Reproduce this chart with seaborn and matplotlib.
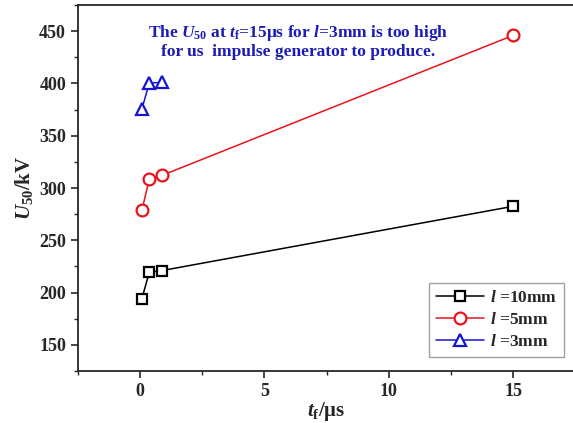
import matplotlib
matplotlib.use("Agg")
import matplotlib.pyplot as plt
from matplotlib.ticker import MultipleLocator
import seaborn as sns
import pandas as pd

# data
tf_short = [0.07, 0.37, 0.87, 15]
u50_10mm = [194, 219.5, 221, 282.5]
u50_5mm = [278.5, 308.5, 312, 446]
tf_3mm = [0.07, 0.37, 0.87]
u50_3mm = [375.5, 400.5, 401]
series_labels = [r"$l$ =10mm", r"$l$ =5mm", r"$l$ =3mm"]
colors = ["black", "#e8141c", "#1414d2"]
markers = ["s", "o", "^"]

sns.set_style("ticks")
plt.rcParams["font.family"] = ["Liberation Serif", "DejaVu Serif"]
plt.rcParams["font.weight"] = "bold"
plt.rcParams["mathtext.fontset"] = "custom"
plt.rcParams["mathtext.rm"] = "Liberation Serif:bold"
plt.rcParams["mathtext.it"] = "Liberation Serif:italic:bold"
plt.rcParams["mathtext.bf"] = "Liberation Serif:bold"

df = pd.concat([
    pd.DataFrame({"tf": tf_short, "U50": u50_10mm, "series": series_labels[0]}),
    pd.DataFrame({"tf": tf_short, "U50": u50_5mm, "series": series_labels[1]}),
    pd.DataFrame({"tf": tf_3mm, "U50": u50_3mm, "series": series_labels[2]}),
])

fig = plt.figure(figsize=(5.73, 4.23), dpi=100)
ax = fig.add_axes([0.136, 0.123, 0.868, 0.865])

for lab, c, m in zip(series_labels, colors, markers):
    sub = df[df["series"] == lab]
    sns.lineplot(data=sub, x="tf", y="U50", ax=ax, color=c, marker=m,
                 markersize=8.5 if m != "s" else 7.5, markerfacecolor="white",
                 markeredgecolor=c, markeredgewidth=1.6, linewidth=1.1,
                 sort=False, label=lab, estimator=None)

ax.set_xlim(-2.5, 17.5)
ax.set_ylim(125, 475)
ax.xaxis.set_major_locator(MultipleLocator(5))
ax.xaxis.set_minor_locator(MultipleLocator(2.5))
ax.yaxis.set_major_locator(MultipleLocator(50))
ax.yaxis.set_minor_locator(MultipleLocator(25))
ax.tick_params(which="major", direction="out", length=5, width=1.2, labelsize=13)
ax.tick_params(which="minor", direction="out", length=3, width=1.0)
for lbl in ax.get_xticklabels() + ax.get_yticklabels():
    lbl.set_fontweight("bold")
for s in ax.spines.values():
    s.set_linewidth(1.3)

ax.set_xlabel(r"$t_{\mathrm{f}}$/μs", fontsize=15, fontweight="bold", labelpad=0)
ax.set_ylabel(r"$U_{50}$/kV", fontsize=15, fontweight="bold", labelpad=3)

ax.text(0.443, 0.951,
        "The $U_{50}$ at $t_{\\mathrm{f}}$=15μs for $l$=3mm is too high\nfor us  impulse generator to produce.",
        transform=ax.transAxes, ha="center", va="top", color="#1c1cb4",
        fontsize=12.5, fontweight="bold", linespacing=1.05)

leg = ax.legend(loc="lower right", bbox_to_anchor=(0.977, 0.038), borderaxespad=0,
                fontsize=12.5, frameon=True, fancybox=False, edgecolor="#888888",
                handlelength=2.8, handletextpad=0.3, borderpad=0.4, labelspacing=0.35)
leg.get_frame().set_linewidth(1.0)
for t in leg.get_texts():
    t.set_fontweight("bold")

fig.savefig("out.png", dpi=100)
